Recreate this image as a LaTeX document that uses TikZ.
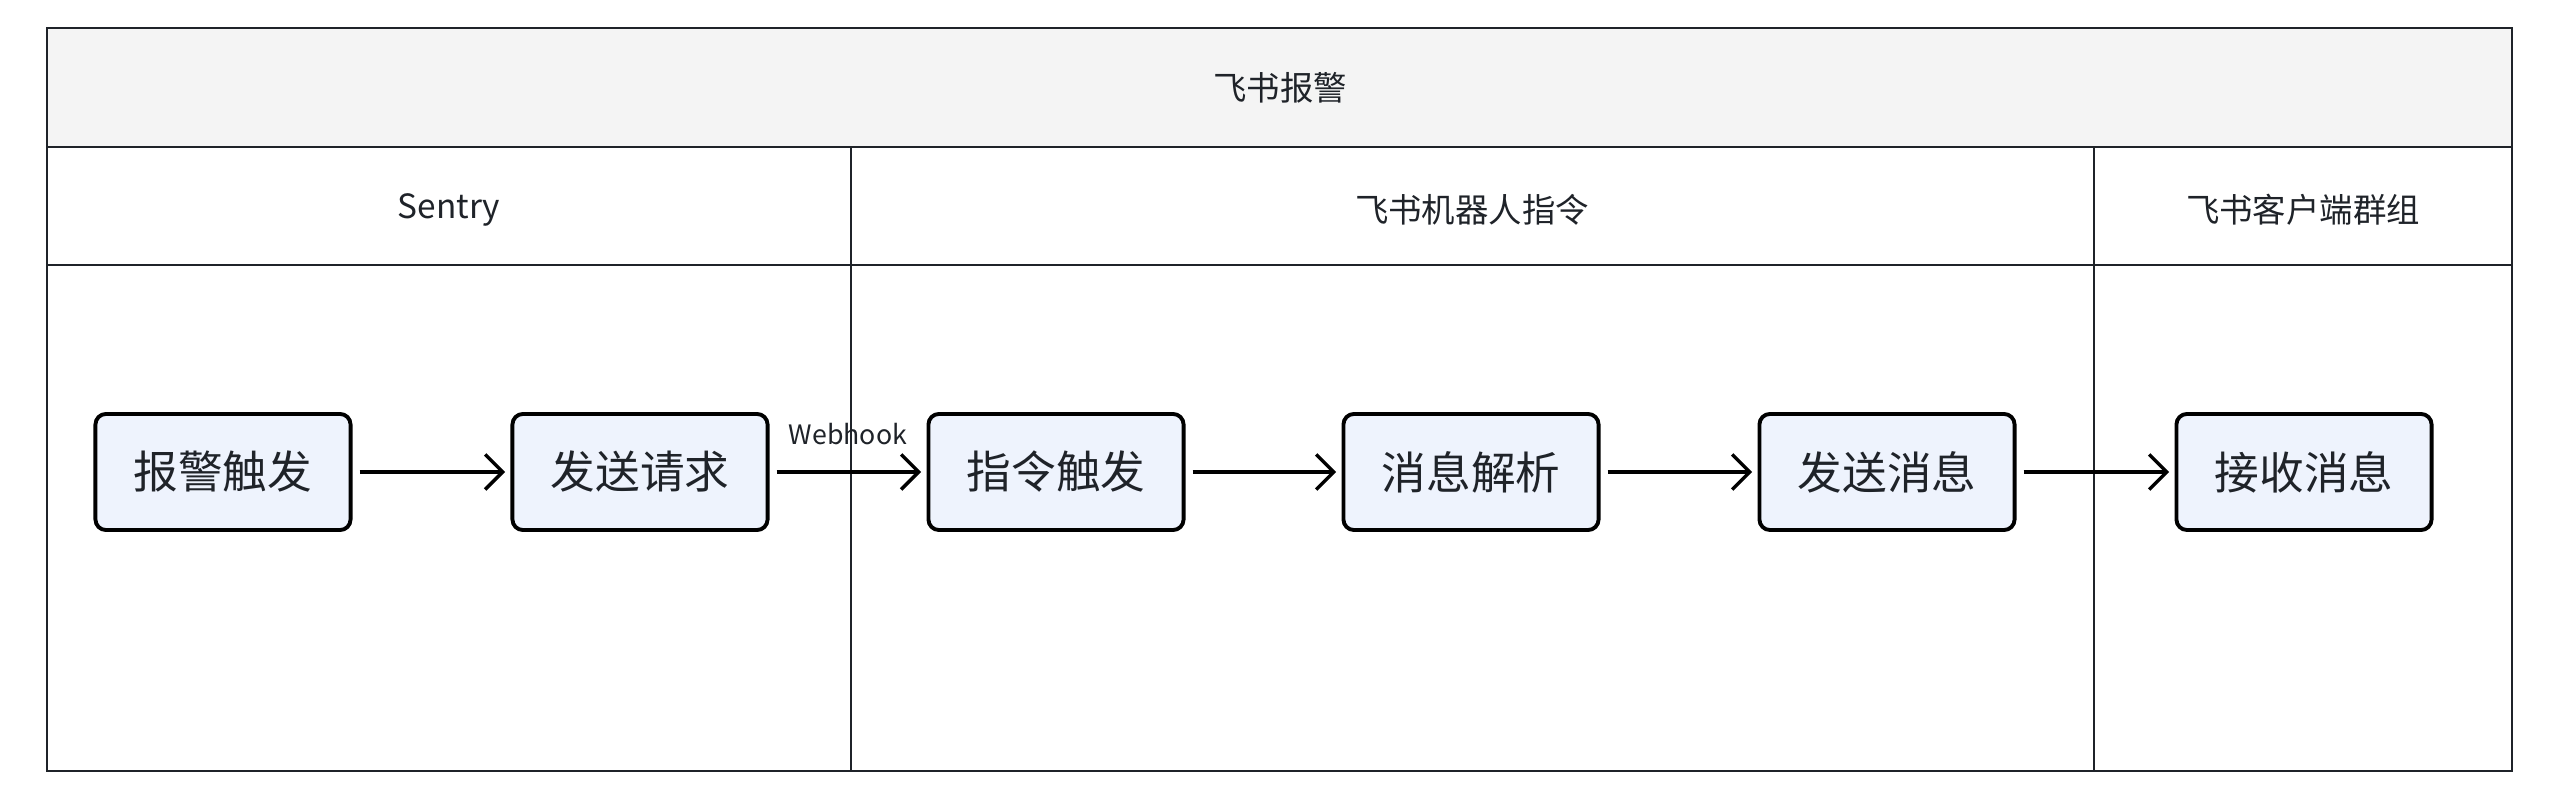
\documentclass[tikz,border=0pt]{standalone}
\usepackage{fontspec}
\setmainfont{Noto Sans CJK SC}
\usepackage{tikz}
\usetikzlibrary{arrows.meta}
\usetikzlibrary{positioning}
\definecolor{headgray}{HTML}{F4F4F4}
\definecolor{boxblue}{HTML}{EEF3FD}
\definecolor{inkdark}{HTML}{1F2329}
\tikzset{
    lane/.style={draw=inkdark, line width=0.55pt},
    procbox/.style={draw=black, fill=boxblue, line width=1.1pt, rounded corners=3pt,
        minimum width=2.55cm, minimum height=1.16cm, inner sep=0pt,
        font=\fontsize{12.7}{15}\selectfont, text=inkdark},
    flow/.style={draw=black, line width=1pt, -{Straight Barb[length=5pt,width=10pt,line width=1pt]},
        shorten <=2pt, shorten >=1.5pt},
    lanetitle/.style={font=\fontsize{9.5}{12}\selectfont, text=inkdark},
}
\begin{document}
\begin{tikzpicture}[x=0.01cm, y=0.01cm]
	\useasboundingbox (0,0) rectangle (2560,800);
	% pool and lanes
	\fill[headgray] (47,653) rectangle (2512,772);
	\draw[lane] (47,29) rectangle (2512,772);
	\draw[lane] (47,653)--(2512,653);
	\draw[lane] (47,535)--(2512,535);
	\draw[lane] (851,29)--(851,653);
	\draw[lane] (2094,29)--(2094,653);
	\node[lanetitle] (pool) at (1280,712) {飞书报警};
	\node[lanetitle] (sentry) at (449,590) {Sentry};
	\node[lanetitle] (robot) at (1472,590) {飞书机器人指令};
	\node[lanetitle] (client) at (2303,590) {飞书客户端群组};
	% steps
	\node[procbox] (alarm) at (223,328) {报警触发};
	\node[procbox] (request) at (640,328) {发送请求};
	\node[procbox] (command) at (1056,328) {指令触发};
	\node[procbox] (parse) at (1471,328) {消息解析};
	\node[procbox] (send) at (1887,328) {发送消息};
	\node[procbox] (receive) at (2304,328) {接收消息};
	\draw[flow] (alarm)--(request);
	\draw[flow] (request)--(command) node[midway, above=4pt, font=\fontsize{7.6}{9}\selectfont, text=inkdark] {Webhook};
	\draw[flow] (command)--(parse);
	\draw[flow] (parse)--(send);
	\draw[flow] (send)--(receive);
\end{tikzpicture}
\end{document}
